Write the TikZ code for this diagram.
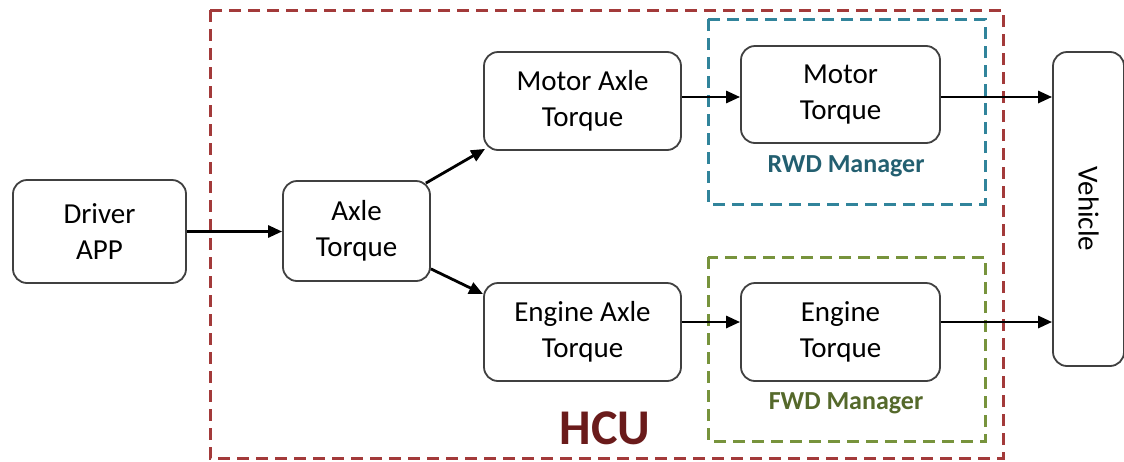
\documentclass[tikz,border=0pt]{standalone}
\usepackage{fontspec}
\setmainfont{Carlito}
\usetikzlibrary{arrows.meta}
\definecolor{boxgray}{HTML}{404040}
\definecolor{hcured}{HTML}{A33A3A}
\definecolor{hcutext}{HTML}{6A1B1B}
\definecolor{rwdline}{HTML}{31849B}
\definecolor{rwdtext}{HTML}{235F70}
\definecolor{fwdline}{HTML}{77933C}
\definecolor{fwdtext}{HTML}{55692B}
\tikzset{
  block/.style={draw=boxgray, line width=1.8pt, rounded corners=14pt, fill=white,
    align=center, inner sep=0pt, font=\fontsize{29}{36}\selectfont},
  frame/.style={line width=3pt, dash pattern=on 12pt off 7pt},
  flow/.style={line width=2.8pt, -{Triangle[length=14pt,width=12pt]}},
}
\begin{document}
\begin{tikzpicture}[x=1pt,y=-1pt]
\useasboundingbox (0,0) rectangle (1124,461);

% dashed group frames
\draw[frame, draw=hcured] (210,10) rectangle (1003,458);
\draw[frame, draw=rwdline] (708,19) rectangle (985,204);
\draw[frame, draw=fwdline] (708,257) rectangle (985,441);

% group labels
\node[font=\fontsize{50}{56}\bfseries, text=hcutext] (hcu) at (605,428) {HCU};
\node[font=\fontsize{26}{30}\bfseries, text=rwdtext] (rwd) at (846,166) {RWD Manager};
\node[font=\fontsize{26}{30}\bfseries, text=fwdtext] (fwd) at (846,403) {FWD Manager};

% blocks
\node[block, minimum width=173pt, minimum height=103pt] (driver) at (99.5,231.5) {Driver\\APP};
\node[block, minimum width=147pt, minimum height=100pt] (axle) at (356.5,231) {Axle\\Torque};
\node[block, minimum width=197pt, minimum height=98pt] (maxle) at (582.5,101) {Motor Axle\\Torque};
\node[block, minimum width=199pt, minimum height=97pt] (mtq) at (840.5,94.5) {Motor\\Torque};
\node[block, minimum width=197pt, minimum height=98pt] (eaxle) at (582.5,332) {Engine Axle\\Torque};
\node[block, minimum width=199pt, minimum height=98pt] (etq) at (840.5,332) {Engine\\Torque};
\node[block, minimum width=71pt, minimum height=314pt] (vehicle) at (1088.5,209)
  {\rotatebox{-90}{Vehicle}};

% connectors (canvas y points up, so a positive yshift moves a point up)
\draw[flow] (driver.east) -- (driver.east -| axle.west);
\draw[flow] ([xshift=-5pt,yshift=-3pt]axle.north east) -- ([xshift=2pt,yshift=2pt]maxle.south west);
\draw[flow] ([yshift=13pt]axle.south east) -- ([yshift=-12pt]eaxle.north west);
\draw[flow] ([yshift=4pt]maxle.east) -- ([yshift=4pt]maxle.east -| mtq.west);
\draw[flow] ([yshift=-2.5pt]mtq.east) -- ([yshift=-2.5pt]mtq.east -| vehicle.west);
\draw[flow] ([yshift=10pt]eaxle.east) -- ([yshift=10pt]eaxle.east -| etq.west);
\draw[flow] ([yshift=10pt]etq.east) -- ([yshift=10pt]etq.east -| vehicle.west);
\end{tikzpicture}
\end{document}
